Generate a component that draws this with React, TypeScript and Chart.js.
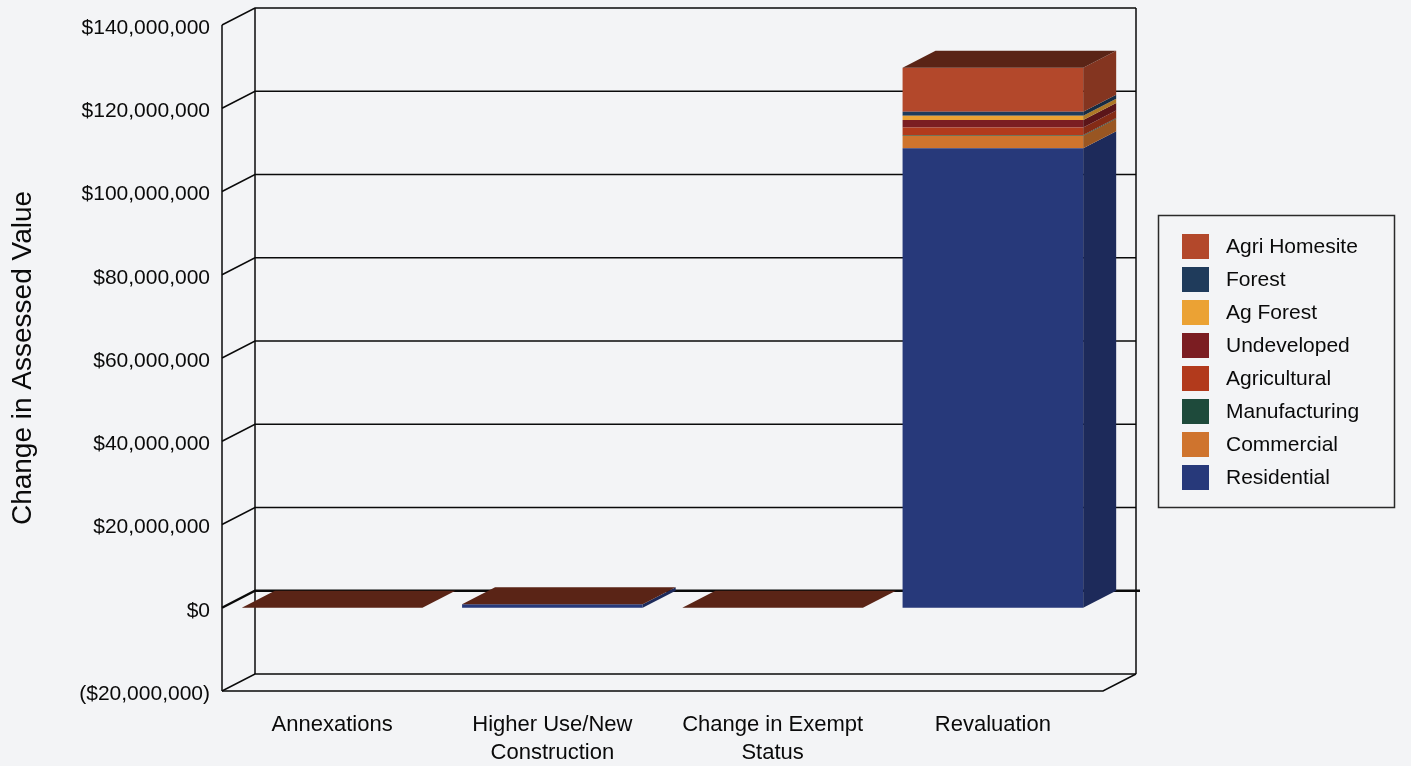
import React, { useEffect, useRef } from 'react';
import { Chart, registerables } from 'chart.js';

Chart.register(...registerables);

// Categories along the x axis
const categories: (string | string[])[] = [
  'Annexations',
  ['Higher Use/New', 'Construction'],
  ['Change in Exempt', 'Status'],
  'Revaluation',
];

// Change in assessed value by property class (dollars), one entry per category
const residential = [0, 850000, 0, 110400000];
const commercial = [0, 0, 0, 3000000];
const manufacturing = [0, 0, 0, 150000];
const agricultural = [0, 0, 0, 1800000];
const undeveloped = [0, 0, 0, 1800000];
const agForest = [0, 0, 0, 1050000];
const forest = [0, 0, 0, 950000];
const agriHomesite = [0, 0, 0, 10600000];

// Series in stacking order (bottom first)
const seriesNames = [
  'Residential',
  'Commercial',
  'Manufacturing',
  'Agricultural',
  'Undeveloped',
  'Ag Forest',
  'Forest',
  'Agri Homesite',
];
const seriesValues = [
  residential,
  commercial,
  manufacturing,
  agricultural,
  undeveloped,
  agForest,
  forest,
  agriHomesite,
];
const seriesColors = [
  '#27397A',
  '#CF742E',
  '#1E4A3B',
  '#B23A1C',
  '#7B1D22',
  '#EBA234',
  '#1F3B5B',
  '#B3482B',
];

// Value axis
const yMin = -20000000;
const yMax = 140000000;
const yStep = 20000000;
const yTitle = 'Change in Assessed Value';

const FONT = "'Liberation Sans', Arial, Helvetica, sans-serif";
const INK = '#0a0a0a';
const BG = '#F3F4F6';
const DX = 33;
const DY = -17;

const shade = (hex: string, f: number) => {
  const n = parseInt(hex.slice(1), 16);
  const r = Math.round(((n >> 16) & 255) * f);
  const g = Math.round(((n >> 8) & 255) * f);
  const b = Math.round((n & 255) * f);
  return `rgb(${r},${g},${b})`;
};

const formatMoney = (v: number) => {
  const s = '$' + Math.abs(v).toLocaleString('en-US');
  return v < 0 ? `(${s})` : s;
};

const poly = (ctx: CanvasRenderingContext2D, pts: number[][], fill: string) => {
  ctx.beginPath();
  ctx.moveTo(pts[0][0], pts[0][1]);
  for (let k = 1; k < pts.length; k++) ctx.lineTo(pts[k][0], pts[k][1]);
  ctx.closePath();
  ctx.fillStyle = fill;
  ctx.fill();
};

const line = (ctx: CanvasRenderingContext2D, pts: number[][], width: number) => {
  ctx.beginPath();
  ctx.moveTo(pts[0][0], pts[0][1]);
  for (let k = 1; k < pts.length; k++) ctx.lineTo(pts[k][0], pts[k][1]);
  ctx.lineWidth = width;
  ctx.stroke();
};

// Background, perspective walls and floor, bar side/top faces, boxed legend
const depthPlugin = {
  id: 'depth3d',
  beforeDraw(chart: any) {
    const { ctx, width, height } = chart;
    ctx.save();
    ctx.fillStyle = BG;
    ctx.fillRect(0, 0, width, height);
    ctx.restore();
  },
  beforeDatasetsDraw(chart: any) {
    const { ctx, chartArea } = chart;
    const { left, right, top, bottom } = chartArea;
    const y = chart.scales.y;
    ctx.save();
    ctx.strokeStyle = INK;
    ctx.lineJoin = 'miter';
    y.ticks.forEach((t: any) => {
      const py = y.getPixelForValue(t.value);
      const w = t.value === 0 ? 2.5 : 1.5;
      const ext = t.value === 0 ? 4 : 0;
      line(ctx, [[left, py], [left + DX, py + DY], [right + DX + ext, py + DY]], w);
    });
    line(ctx, [[left, top], [left, bottom]], 1.5);
    line(ctx, [[left + DX, top + DY], [left + DX, bottom + DY]], 1.5);
    line(ctx, [[right + DX, top + DY], [right + DX, bottom + DY]], 1.5);
    line(ctx, [[left, bottom], [right, bottom], [right + DX, bottom + DY]], 1.5);
    ctx.restore();
  },
  afterDatasetsDraw(chart: any) {
    const { ctx } = chart;
    const n = chart.data.labels.length;
    const sets = chart.data.datasets;
    // the cap of each stack carries the colour of the uppermost series
    const capColor = shade(sets[sets.length - 1].backgroundColor, 0.5);
    ctx.save();
    for (let i = 0; i < n; i++) {
      let topY = Infinity;
      let l = 0;
      let r = 0;
      sets.forEach((ds: any, j: number) => {
        const el = chart.getDatasetMeta(j).data[i];
        const p = el.getProps(['x', 'y', 'base', 'width'], true);
        l = p.x - p.width / 2;
        r = p.x + p.width / 2;
        const yTop = Math.min(p.y, p.base);
        const yBot = Math.max(p.y, p.base);
        if (yBot - yTop > 0.05) {
          poly(
            ctx,
            [[r, yTop], [r + DX, yTop + DY], [r + DX, yBot + DY], [r, yBot]],
            shade(ds.backgroundColor, 0.74)
          );
        }
        if (yTop < topY) topY = yTop;
      });
      poly(ctx, [[l, topY], [l + DX, topY + DY], [r + DX, topY + DY], [r, topY]], capColor);
    }
    ctx.restore();
  },
  afterDraw(chart: any) {
    const { ctx } = chart;
    const sets = chart.data.datasets;
    const bx = 1158.5;
    const by = 215.5;
    const bw = 236;
    const bh = 292;
    ctx.save();
    ctx.strokeStyle = '#2a2a2a';
    ctx.lineWidth = 1.5;
    ctx.strokeRect(bx, by, bw, bh);
    ctx.font = `21px ${FONT}`;
    ctx.textBaseline = 'middle';
    ctx.textAlign = 'left';
    const order = sets.map((_: any, k: number) => k).reverse();
    order.forEach((k: number, row: number) => {
      const sy = 234 + row * 33;
      ctx.fillStyle = sets[k].backgroundColor;
      ctx.fillRect(1182, sy, 27, 25);
      ctx.fillStyle = INK;
      ctx.fillText(sets[k].label, 1226, sy + 13);
    });
    ctx.restore();
  },
};

export default function App() {
  const canvasRef = useRef<HTMLCanvasElement | null>(null);

  useEffect(() => {
    const canvas = canvasRef.current;
    if (!canvas) return;
    const chart = new Chart(canvas, {
      type: 'bar',
      data: {
        labels: categories,
        datasets: seriesNames.map((name, k) => ({
          label: name,
          data: seriesValues[k],
          backgroundColor: seriesColors[k],
          borderWidth: 0,
          categoryPercentage: 1,
          barPercentage: 0.82,
        })),
      },
      options: {
        responsive: false,
        devicePixelRatio: 1,
        animation: false,
        layout: { padding: { left: 0, right: 308, top: 25, bottom: 0 } },
        plugins: {
          legend: { display: false },
          tooltip: { enabled: false },
        },
        scales: {
          x: {
            stacked: true,
            grid: { display: false },
            border: { display: false },
            ticks: {
              color: INK,
              font: { family: FONT, size: 22, lineHeight: 1.27 },
              padding: 12,
              maxRotation: 0,
              autoSkip: false,
            },
            afterFit: (s: any) => {
              s.height = 75;
            },
          },
          y: {
            stacked: true,
            min: yMin,
            max: yMax,
            grid: { display: false, drawTicks: false },
            border: { display: false },
            ticks: {
              stepSize: yStep,
              color: INK,
              padding: 12,
              labelOffset: 3,
              font: { family: FONT, size: 21 },
              callback: (v: any) => formatMoney(Number(v)),
            },
            title: {
              display: true,
              text: yTitle,
              color: INK,
              font: { family: FONT, size: 28 },
              padding: { top: 6, bottom: 0 },
            },
            afterFit: (s: any) => {
              s.width = 222;
            },
          },
        },
      },
      plugins: [depthPlugin],
    });
    return () => chart.destroy();
  }, []);

  return (
    <div style={{ position: 'absolute', left: 0, top: 0, width: 1411, height: 766 }}>
      <canvas ref={canvasRef} width={1411} height={766} style={{ display: 'block' }} />
    </div>
  );
}
